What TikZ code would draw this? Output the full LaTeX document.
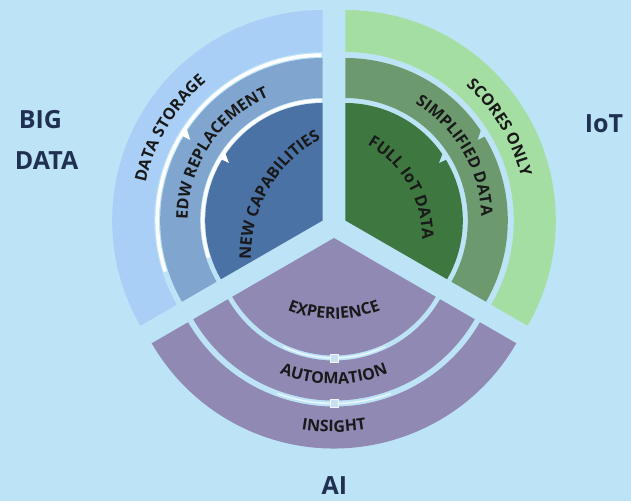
\documentclass[tikz,border=0pt]{standalone}
\usepackage{fontspec}
\setmainfont{Open Sans}
\usetikzlibrary{decorations.text,calc}
\definecolor{bg}{RGB}{189,227,247}
\definecolor{bOut}{RGB}{170,207,247}
\definecolor{bMid}{RGB}{128,166,208}
\definecolor{bIn}{RGB}{74,114,165}
\definecolor{gOut}{RGB}{165,222,163}
\definecolor{gMid}{RGB}{108,154,110}
\definecolor{gIn}{RGB}{62,120,64}
\definecolor{pur}{RGB}{143,137,180}
\definecolor{navy}{RGB}{31,48,80}
\definecolor{sqcol}{RGB}{200,224,240}
\newcommand\ringfont{\bfseries\fontsize{16}{16}\selectfont}
\newcommand\bandsec[6]{\fill[#6] ($(#1)+(#2:#4)$) arc[start angle=#2,end angle=#3,radius=#4] -- ($(#1)+(#3:#5)$) arc[start angle=#3,end angle=#2,radius=#5] -- cycle;}
\newcommand\piesec[5]{\fill[#5] (#1) -- ($(#1)+(#2:#4)$) arc[start angle=#2,end angle=#3,radius=#4] -- cycle;}
\tikzset{
  ringtext/.style={decorate, decoration={text along path, text align=center, text color=black!90}},
  biglab/.style={font=\bfseries\fontsize{25}{25}\selectfont, text=navy, inner sep=0pt},
  sqmark/.style={draw=white!70!sqcol, fill=sqcol, minimum size=8pt, inner sep=0pt, line width=0.6pt}
}
\begin{document}
\begin{tikzpicture}[x=1pt,y=1pt]
\fill[bg] (0,0) rectangle (631,501);
\useasboundingbox (0,0) rectangle (631,501);
\coordinate (B) at (322.7,280.5);
\coordinate (G) at (345.3,280.5);
\coordinate (P) at (334,263);
% blue sector
\bandsec{B}{90}{210}{168.5}{210.5}{bOut}
\bandsec{B}{90}{210}{122.5}{162.5}{bMid}
\piesec{B}{90}{210}{117.5}{bIn}
% green sector
\bandsec{G}{-30}{90}{168.5}{210.5}{gOut}
\bandsec{G}{-30}{90}{122.5}{162.5}{gMid}
\piesec{G}{-30}{90}{117.5}{gIn}
% purple sector
\bandsec{P}{210}{330}{168.5}{210.5}{pur}
\bandsec{P}{210}{330}{122.5}{162.5}{pur}
\piesec{P}{210}{330}{117.5}{pur}
% white gap highlights in blue
\draw[white, line width=3.5pt] ($(B)+(90.5:120)$) arc[start angle=90.5,end angle=198,radius=120];
\draw[white, line width=3.5pt] ($(B)+(90.5:165.5)$) arc[start angle=90.5,end angle=198,radius=165.5];
% notches
\fill[white] ($(B)+(144.5:121)$) -- ($(B)+(149:121)$) -- ($(B)+(148.5:110)$) -- cycle;
\fill[white] ($(B)+(145.5:166)$) -- ($(B)+(149:166)$) -- ($(B)+(148.7:155)$) -- cycle;
\fill[bg] ($(G)+(35.5:121)$) -- ($(G)+(31:121)$) -- ($(G)+(31.5:110)$) -- cycle;
\fill[bg] ($(G)+(34.5:166)$) -- ($(G)+(31:166)$) -- ($(G)+(31.3:155)$) -- cycle;
% purple gap highlights and squares
\draw[white, line width=1.5pt, opacity=0.7] ($(P)+(245:120)$) arc[start angle=245,end angle=295,radius=120];
\draw[white, line width=1.5pt, opacity=0.7] ($(P)+(250:165.5)$) arc[start angle=250,end angle=290,radius=165.5];
\node[sqmark] (sq1) at ($(P)+(270:120)$) {};
\node[sqmark] (sq2) at ($(P)+(270:165.5)$) {};
% ring labels, blue
\path[ringtext, decoration={text={|\ringfont|DATA STORAGE}}] ($(B)+(185:181)$) arc[start angle=185,end angle=113,radius=181];
\path[ringtext, decoration={text={|\ringfont|EDW REPLACEMENT}}] ($(B)+(191.5:135)$) arc[start angle=191.5,end angle=101.5,radius=135];
\coordinate (Ob) at ($(B)+(62.4,-36)$);
\path[ringtext, decoration={text={|\ringfont|NEW CAPABILITIES}}] ($(Ob)+(190:134)$) arc[start angle=190,end angle=110,radius=134];
% ring labels, green
\path[ringtext, decoration={text={|\ringfont|SCORES ONLY}}] ($(G)+(75:181)$) arc[start angle=75,end angle=-13,radius=181];
\path[ringtext, decoration={text={|\ringfont|SIMPLIFIED DATA}}] ($(G)+(75:136)$) arc[start angle=75,end angle=-14,radius=136];
\coordinate (Og) at ($(G)+(-30.3,-17.5)$);
\path[ringtext, decoration={text={|\ringfont|FULL IoT DATA}}] ($(Og)+(75:107)$) arc[start angle=75,end angle=-15,radius=107];
% ring labels, purple
\coordinate (Op) at ($(P)+(0,45)$);
\path[ringtext, decoration={text={|\ringfont|EXPERIENCE}}] ($(Op)+(230:126)$) arc[start angle=230,end angle=310,radius=126];
\path[ringtext, decoration={text={|\ringfont|AUTOMATION}}] ($(P)+(240:146)$) arc[start angle=240,end angle=300,radius=146];
\path[ringtext, decoration={text={|\ringfont|INSIGHT}}] ($(P)+(250:194)$) arc[start angle=250,end angle=290,radius=194];
% big labels
\node[biglab] (big) at (40.5,381) {BIG};
\node[biglab] (data) at (46.5,340) {DATA};
\node[biglab] (iot) at (604,377) {IoT};
\node[biglab] (ai) at (334.5,15.5) {AI};
\end{tikzpicture}
\end{document}
